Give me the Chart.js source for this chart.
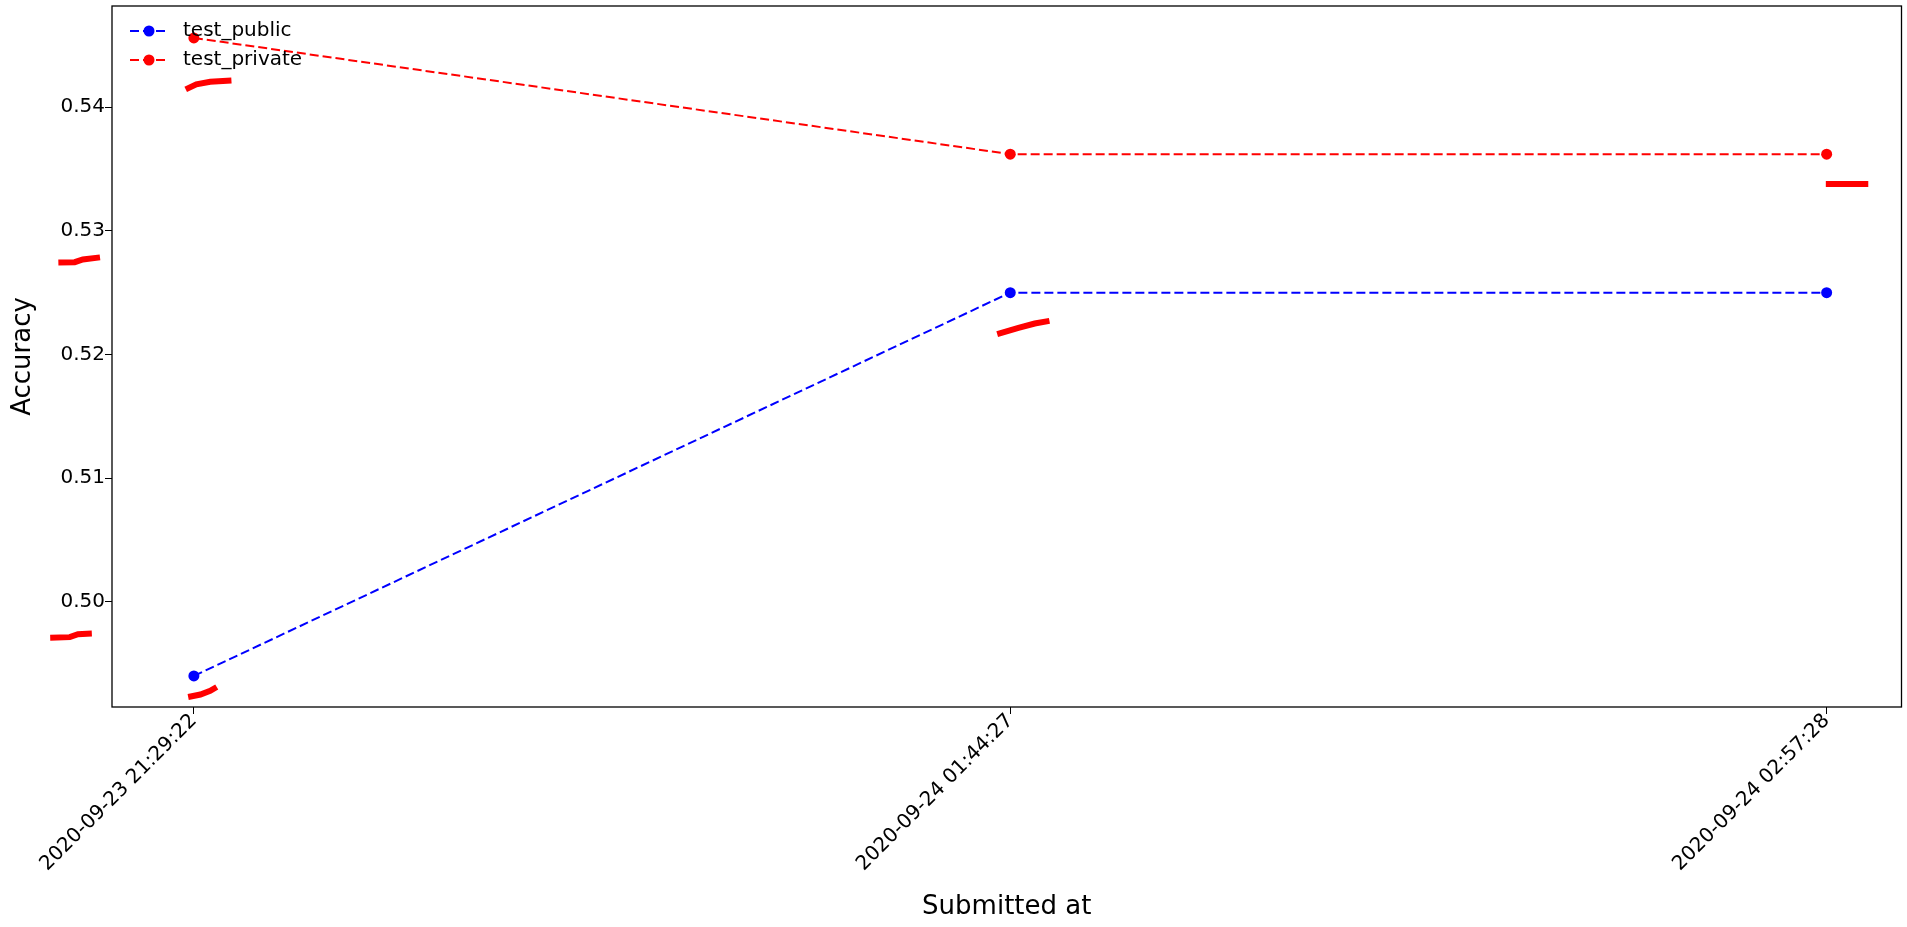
<!DOCTYPE html>
<html>
<head>
<meta charset="utf-8">
<script src="https://cdn.jsdelivr.net/npm/chart.js@4"></script>
<style>
  html, body { margin: 0; padding: 0; background: #fff; }
  #wrap { width: 1907px; height: 927px; }
</style>
</head>
<body>
<div id="wrap"><canvas id="accChart"></canvas></div>
<script>
const submitLabels = ["2020-09-23 21:29:22", "2020-09-24 01:44:27", "2020-09-24 02:57:28"];
const publicAcc = [0.4940, 0.5250, 0.5250];
const privateAcc = [0.5456, 0.5362, 0.5362];
const yTicks = [0.50, 0.51, 0.52, 0.53, 0.54];

// the small red blobs scattered around the points (x in submission index units)
const markA = [[-0.166, 0.52743], [-0.146, 0.52746], [-0.136, 0.52768], [-0.115, 0.52785]];
const markB = [[-0.176, 0.49710], [-0.152, 0.49714], [-0.142, 0.49738], [-0.125, 0.49743]];
const markC = [[-0.010, 0.54144], [0.003, 0.54185], [0.020, 0.54205], [0.046, 0.54215]];
const markD = [[-0.007, 0.49230], [0.008, 0.49250], [0.020, 0.49280], [0.028, 0.49311]];
const markE = [[0.984, 0.52164], [1.010, 0.52215], [1.030, 0.52250], [1.048, 0.52272]];
const markF = [[1.999, 0.53378], [2.051, 0.53378]];

const FONT = "'DejaVu Sans', sans-serif";

function toXY(arr) {
  return arr.map(p => ({ x: p[0], y: p[1] }));
}

function markSet(arr) {
  return {
    // reversed so chart.js does not trim points lying outside the x range
    data: toXY(arr).reverse(),
    borderColor: "#ff0000",
    borderWidth: 6,
    pointRadius: 0,
    borderCapStyle: "butt",
    fill: false,
    clip: false,
  };
}

// matplotlib style frame + legend inside top-left
const framePlugin = {
  id: "frame",
  afterDraw(chart) {
    const ctx = chart.ctx;
    const a = chart.chartArea;
    ctx.save();
    ctx.strokeStyle = "#000";
    ctx.lineWidth = 1.3;
    ctx.strokeRect(a.left, a.top, a.right - a.left, a.bottom - a.top);

    const items = [
      { text: "test_public", color: "#0000ff", y: 31 },
      { text: "test_private", color: "#ff0000", y: 60 },
    ];
    items.forEach(it => {
      ctx.strokeStyle = it.color;
      ctx.lineWidth = 2;
      ctx.setLineDash([9, 4]);
      ctx.beginPath();
      ctx.moveTo(130, it.y);
      ctx.lineTo(168, it.y);
      ctx.stroke();
      ctx.setLineDash([]);
      ctx.fillStyle = it.color;
      ctx.beginPath();
      ctx.arc(149, it.y, 5.5, 0, Math.PI * 2);
      ctx.fill();
      ctx.fillStyle = "#000";
      ctx.font = "20px " + FONT;
      ctx.textBaseline = "middle";
      ctx.fillText(it.text, 183, it.y);
    });
    ctx.restore();
  }
};

let ctx = document.getElementById('accChart').getContext('2d');

let accChart = new Chart(ctx, {
  type: "line",
  data: {
    datasets: [{
      label: "test_public",
      data: publicAcc.map((v, i) => ({ x: i, y: v })),
      borderColor: "#0000ff",
      backgroundColor: "#0000ff",
      borderWidth: 2,
      borderDash: [9, 4],
      pointRadius: 5.5,
      pointBorderWidth: 0,
      fill: false,
    }, {
      label: "test_private",
      data: privateAcc.map((v, i) => ({ x: i, y: v })),
      borderColor: "#ff0000",
      backgroundColor: "#ff0000",
      borderWidth: 2,
      borderDash: [9, 4],
      pointRadius: 5.5,
      pointBorderWidth: 0,
      fill: false,
    },
      markSet(markA),
      markSet(markB),
      markSet(markC),
      markSet(markD),
      markSet(markE),
      markSet(markF),
    ]
  },
  options: {
    responsive: true,
    maintainAspectRatio: false,
    animation: false,
    layout: {
      padding: { top: 6, right: 2, left: 8, bottom: 0 },
    },
    plugins: {
      legend: { display: false },
      tooltip: { enabled: false },
    },
    scales: {
      x: {
        type: "linear",
        min: -0.1003,
        max: 2.0917,
        afterBuildTicks: (scale) => {
          scale.ticks = submitLabels.map((_, i) => ({ value: i }));
        },
        afterFit: (scale) => {
          scale.height = 220;
          scale.paddingLeft = 0;
          scale.paddingRight = 0;
        },
        ticks: {
          color: "#000",
          font: { family: FONT, size: 20 },
          minRotation: 45,
          maxRotation: 45,
          padding: -5,
          callback: (v) => submitLabels[v],
        },
        grid: {
          display: true,
          drawOnChartArea: false,
          drawTicks: true,
          tickLength: 7,
          color: "#000",
        },
        border: { display: false },
        title: {
          display: true,
          text: "Submitted at",
          color: "#000",
          font: { family: FONT, size: 26 },
          padding: { top: 0, bottom: 4 },
        },
      },
      y: {
        min: 0.49149,
        max: 0.54818,
        afterBuildTicks: (scale) => {
          scale.ticks = yTicks.map(v => ({ value: v }));
        },
        afterFit: (scale) => {
          scale.width = 104;
          scale.paddingTop = 0;
          scale.paddingBottom = 0;
        },
        ticks: {
          color: "#000",
          font: { family: FONT, size: 20 },
          padding: 0,
          callback: (v) => v.toFixed(2),
        },
        grid: {
          display: true,
          drawOnChartArea: false,
          drawTicks: true,
          tickLength: 7,
          color: "#000",
        },
        border: { display: false },
        title: {
          display: true,
          text: "Accuracy",
          color: "#000",
          font: { family: FONT, size: 26 },
          padding: { top: 0, bottom: 0 },
        },
      }
    }
  },
  plugins: [framePlugin],
});
</script>
</body>
</html>
